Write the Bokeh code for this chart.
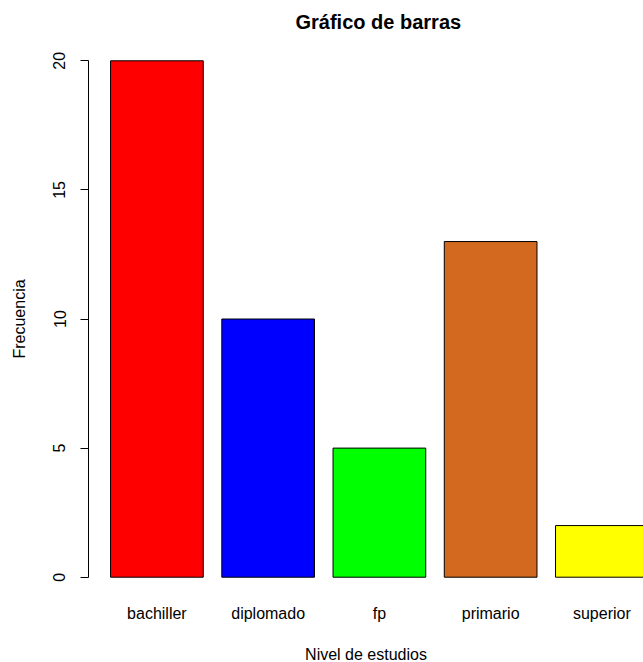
from bokeh.plotting import figure
from bokeh.models import Range1d, FixedTicker, ColumnDataSource
from bokeh.embed import file_html
from bokeh.resources import INLINE

categories = ["bachiller", "diplomado", "fp", "primario", "superior"]
frecuencia = [20, 10, 5, 13, 2]
colores = ["#FF0000", "#0000FF", "#00FF00", "#D2691E", "#FFFF00"]
y_ticks = [0, 5, 10, 15, 20]

# R barplot layout: width 1, space 0.2
bar_width = 1.0
space = 0.2
mids = [space + bar_width / 2 + i * (bar_width + space) for i in range(len(categories))]

src = ColumnDataSource(dict(x=mids, top=frecuencia, color=colores, name=categories))

FONT = "Liberation Sans"

p = figure(
    frame_width=555, frame_height=557,
    min_border_left=88, min_border_right=0, min_border_top=40, min_border_bottom=65,
    x_range=Range1d(-0.038, 5.949), y_range=Range1d(-0.786, 20.786),
    output_backend="svg", toolbar_location=None,
    title="Gráfico de barras",
)

p.vbar(x="x", top="top", bottom=0, width=bar_width, fill_color="color",
       line_color="black", line_width=1, source=src)

p.title.text_font = FONT
p.title.text_font_size = "20px"
p.title.text_font_style = "bold"
p.title.align = "left"
p.title.offset = 207
p.title.standoff = 16
p.title.text_color = "black"

p.xgrid.visible = False
p.ygrid.visible = False
p.outline_line_color = None
p.background_fill_color = "white"
p.border_fill_color = "white"

# y axis
ya = p.yaxis[0]
ya.ticker = FixedTicker(ticks=y_ticks)
ya.bounds = (min(y_ticks), max(y_ticks))
ya.major_label_orientation = "vertical"
ya.major_tick_out = 8
ya.major_tick_in = 0
ya.minor_tick_out = 0
ya.minor_tick_in = 0
ya.major_label_standoff = 15
ya.major_label_text_font = FONT
ya.major_label_text_font_size = "16px"
ya.major_label_text_color = "black"
ya.axis_line_color = "black"
ya.major_tick_line_color = "black"
ya.axis_label = "Frecuencia"
ya.axis_label_text_font = FONT
ya.axis_label_text_font_size = "16px"
ya.axis_label_text_font_style = "normal"
ya.axis_label_standoff = 23
ya.axis_label_text_color = "black"

# x axis (category names, no line)
xa = p.xaxis[0]
xa.ticker = FixedTicker(ticks=mids)
xa.major_label_overrides = {m: c for m, c in zip(mids, categories)}
xa.axis_line_color = None
xa.major_tick_line_color = None
xa.minor_tick_line_color = None
xa.major_label_standoff = 1
xa.major_label_text_font = FONT
xa.major_label_text_font_size = "16px"
xa.major_label_text_color = "black"
xa.axis_label = "Nivel de estudios"
xa.axis_label_text_font = FONT
xa.axis_label_text_font_size = "16px"
xa.axis_label_text_font_style = "normal"
xa.axis_label_standoff = 21
xa.axis_label_text_color = "black"

open("out.html", "w").write(file_html(p, INLINE))
